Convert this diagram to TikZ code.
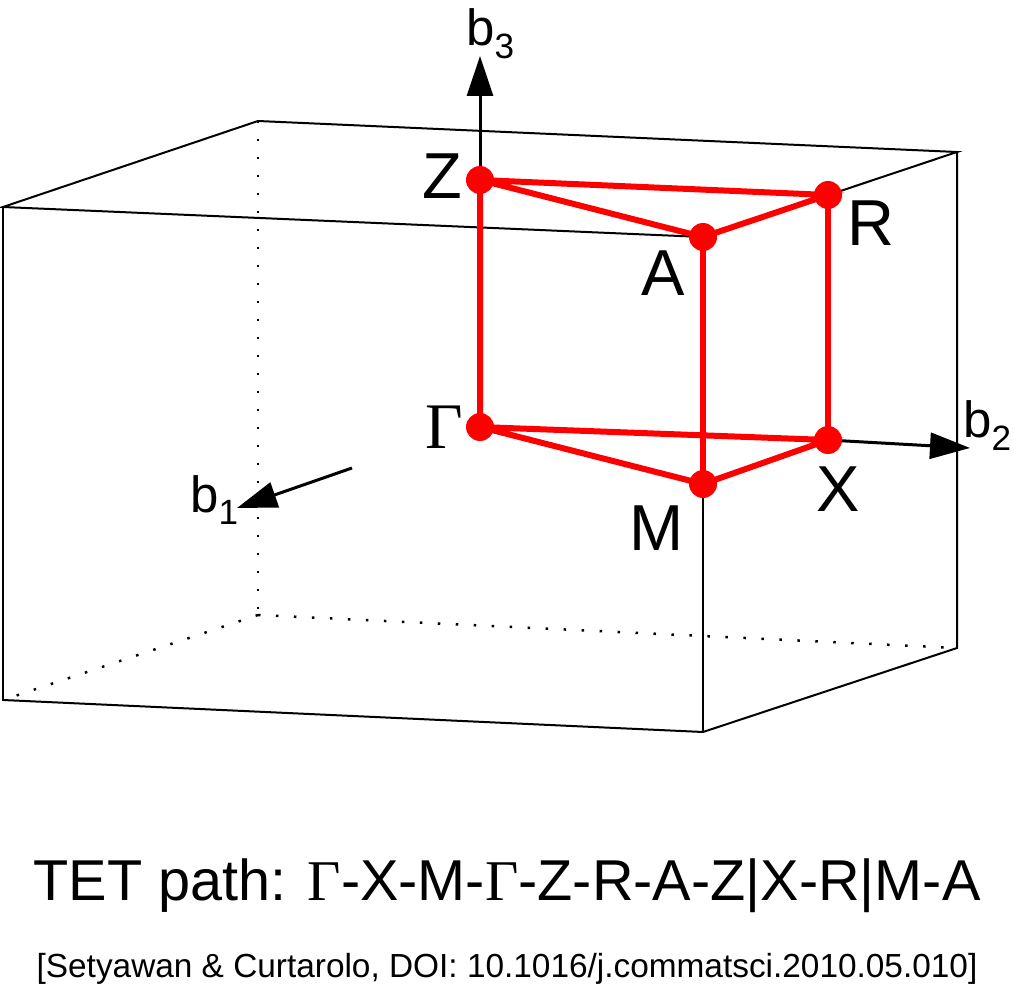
\documentclass[tikz,border=0pt]{standalone}
\usepackage{fontspec}
\setmainfont{Liberation Sans}
\newfontfamily\serifgr{Liberation Serif}
\usepackage{tikz}
\usetikzlibrary{arrows.meta}

\tikzset{
  boxedge/.style={black,line width=0.04cm},
  hidden/.style={black,line width=0.05cm,dash pattern=on 0.05cm off 0.31cm},
  kpath/.style={red,line width=0.12cm},
  kaxis/.style={black,line width=0.06cm,-{Triangle[length=0.8cm,width=0.52cm]}},
  kpt/.style={circle,fill=red,inner sep=0pt,minimum size=0.56cm},
  klabel/.style={font=\fontsize{37}{40}\selectfont,inner sep=0pt},
  blabel/.style={font=\fontsize{29}{32}\selectfont,inner sep=0pt,anchor=base west},
}
\newcommand{\bsub}[1]{b\raisebox{-7pt}{\fontsize{20}{22}\selectfont #1}}

\begin{document}
\begin{tikzpicture}[x=0.02cm,y=-0.02cm]
\useasboundingbox (0,0) rectangle (1014,986);

\coordinate (c1) at (3,207);
\coordinate (c2) at (258,121);
\coordinate (c3) at (957,152);
\coordinate (c5) at (3,700);
\coordinate (c6) at (703,732);
\coordinate (c7) at (957,648);
\coordinate (c8) at (258,615);

\coordinate (G) at (480,427);
\coordinate (X) at (828,440);
\coordinate (M) at (703,484);
\coordinate (Z) at (480,180);
\coordinate (R) at (828,195);
\coordinate (A) at (703,237);

\coordinate (t3) at (480,56);
\coordinate (t2) at (970,448);
\coordinate (s1) at (352,468);
\coordinate (t1) at (237,508);

\draw[hidden] (c2) -- (c8);
\draw[hidden] (c8) -- (c5);
\draw[hidden] (c8) -- (c7);
\draw[boxedge] (c1) -- (c2) -- (c3) -- (A) -- cycle;
\draw[boxedge] (c1) -- (c5) -- (c6) -- (c7) -- (c3);
\draw[boxedge] (A) -- (c6);

\draw[kaxis] (Z) -- (t3);
\draw[kaxis] (X) -- (t2);
\draw[kaxis] (s1) -- (t1);

\draw[kpath] (G) -- (X) -- (M) -- (G) -- (Z) -- (R) -- (A) -- (Z);
\draw[kpath] (X) -- (R);
\draw[kpath] (M) -- (A);

\foreach \p in {G,X,M,Z,R,A}
  \node[kpt] (d\p) at (\p) {};

\node[klabel] (lZ) at (442,176) {Z};
\node[klabel] (lR) at (871,223) {R};
\node[klabel] (lA) at (663,273) {A};
\node[klabel] (lG) at (444,427) {\serifgr Γ};
\node[klabel] (lM) at (657,528) {M};
\node[klabel] (lX) at (838,489) {X};

\node[blabel] (b3) at (466,46) {\bsub{3}};
\node[blabel] (b2) at (963,438) {\bsub{2}};
\node[blabel] (b1) at (190,512) {\bsub{1}};

\node[font=\fontsize{32.8}{36}\selectfont,anchor=base] (title) at (507,900)
  {TET path: {\serifgr Γ}-X-M-{\serifgr Γ}-Z-R-A-Z|X-R|M-A};
\node[font=\fontsize{19}{21}\selectfont,anchor=base] (cite) at (507,977)
  {[Setyawan \& Curtarolo, DOI: 10.1016/j.commatsci.2010.05.010]};
\end{tikzpicture}
\end{document}
